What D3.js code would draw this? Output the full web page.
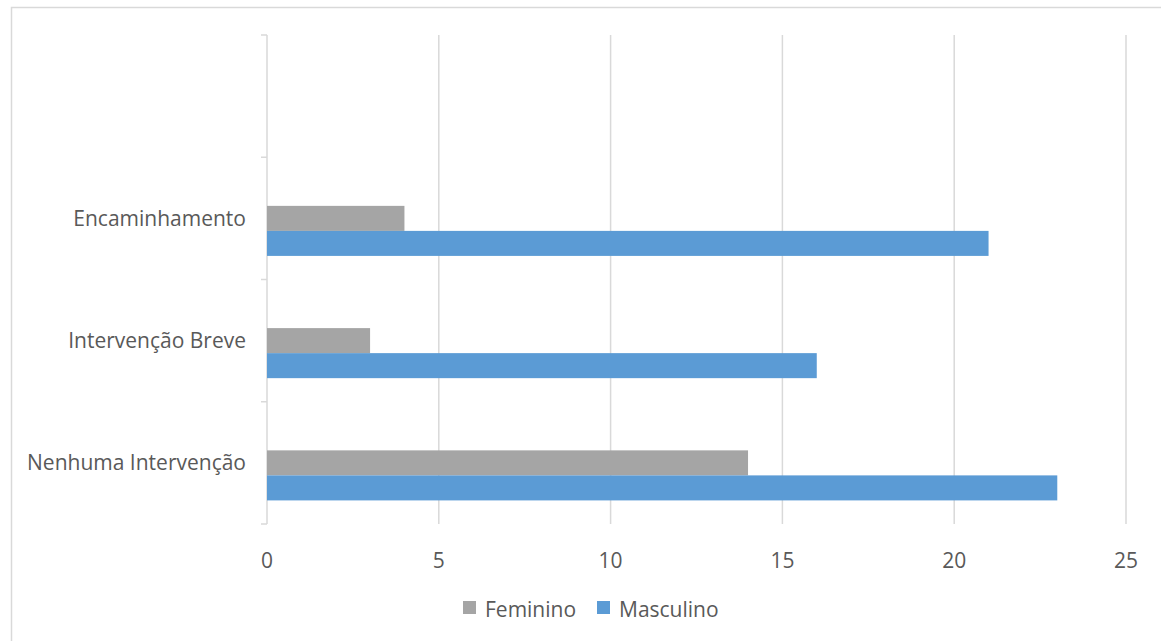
<!DOCTYPE html>
<html>
<head>
<meta charset="utf-8">
<script src="https://cdn.jsdelivr.net/npm/d3@7.9.0/dist/d3.min.js"></script>
<style>
  body { margin: 0; background: #fff; }
  svg { display: block; font-family: "Open Sans", sans-serif; }
</style>
</head>
<body>
<svg width="1161" height="641"></svg>
<script>
// categories bottom -> top, top row is an empty category
const categories = ["Nenhuma Intervenção", "Intervenção Breve", "Encaminhamento", ""];
const seriesNames = ["Feminino", "Masculino"];
const feminino = [14, 3, 4, null];
const masculino = [23, 16, 21, null];
const xTicks = [0, 5, 10, 15, 20, 25];

const colors = { Feminino: "#a5a5a5", Masculino: "#5b9bd5" };
const svg = d3.select("svg");

// outer frame
svg.append("rect")
  .attr("x", 11.5).attr("y", 7.5)
  .attr("width", 1200).attr("height", 700)
  .attr("fill", "none").attr("stroke", "#d9d9d9").attr("stroke-width", 1.5);

const plotLeft = 267, plotRight = 1126, plotTop = 35, plotBottom = 524;

const x = d3.scaleLinear().domain([0, 25]).range([plotLeft, plotRight]);
const y = d3.scaleBand().domain(categories).range([plotBottom, plotTop]).padding(0);

// 3 slots per group; first slot belongs to a blank series in the source
const slot = d3.scaleBand()
  .domain(["blank", "Feminino", "Masculino"])
  .range([y.bandwidth() * 0.193, y.bandwidth() * 0.807]);

// gridlines
svg.append("g").selectAll("line")
  .data(xTicks.slice(1))
  .join("line")
  .attr("x1", d => x(d)).attr("x2", d => x(d))
  .attr("y1", plotTop).attr("y2", plotBottom)
  .attr("stroke", "#d9d9d9").attr("stroke-width", 1.5);

// y axis line + ticks
svg.append("line")
  .attr("x1", plotLeft).attr("x2", plotLeft).attr("y1", plotTop).attr("y2", plotBottom)
  .attr("stroke", "#d9d9d9").attr("stroke-width", 1.5);
const yTicks = categories.map(c => y(c)).concat([plotBottom]);
svg.append("g").selectAll("line")
  .data(yTicks)
  .join("line")
  .attr("x1", plotLeft - 6).attr("x2", plotLeft)
  .attr("y1", d => d).attr("y2", d => d)
  .attr("stroke", "#d9d9d9").attr("stroke-width", 1.5);

// bars
const rows = categories.map((c, i) => ({ cat: c, Feminino: feminino[i], Masculino: masculino[i] }));
seriesNames.forEach(s => {
  svg.append("g").selectAll("rect")
    .data(rows.filter(r => r[s] != null))
    .join("rect")
    .attr("x", x(0))
    .attr("y", d => y(d.cat) + slot(s))
    .attr("width", d => x(d[s]) - x(0))
    .attr("height", slot.bandwidth())
    .attr("fill", colors[s]);
});

// category labels
svg.append("g").selectAll("text")
  .data(categories.filter(c => c))
  .join("text")
  .attr("x", 246)
  .attr("y", d => y(d) + y.bandwidth() / 2)
  .attr("dy", "0.35em")
  .attr("text-anchor", "end")
  .attr("font-size", 21)
  .attr("fill", "#595959")
  .text(d => d);

// x tick labels
svg.append("g").selectAll("text")
  .data(xTicks)
  .join("text")
  .attr("x", d => x(d))
  .attr("y", 568)
  .attr("text-anchor", "middle")
  .attr("font-size", 21)
  .attr("fill", "#595959")
  .text(d => d);

// legend
const legend = svg.append("g");
const legendX = [463, 597];
seriesNames.forEach((s, i) => {
  legend.append("rect")
    .attr("x", legendX[i]).attr("y", 601)
    .attr("width", 13).attr("height", 13)
    .attr("fill", colors[s]);
  legend.append("text")
    .attr("x", legendX[i] + 22).attr("y", 617)
    .attr("font-size", 21)
    .attr("fill", "#595959")
    .text(s);
});
</script>
</body>
</html>
